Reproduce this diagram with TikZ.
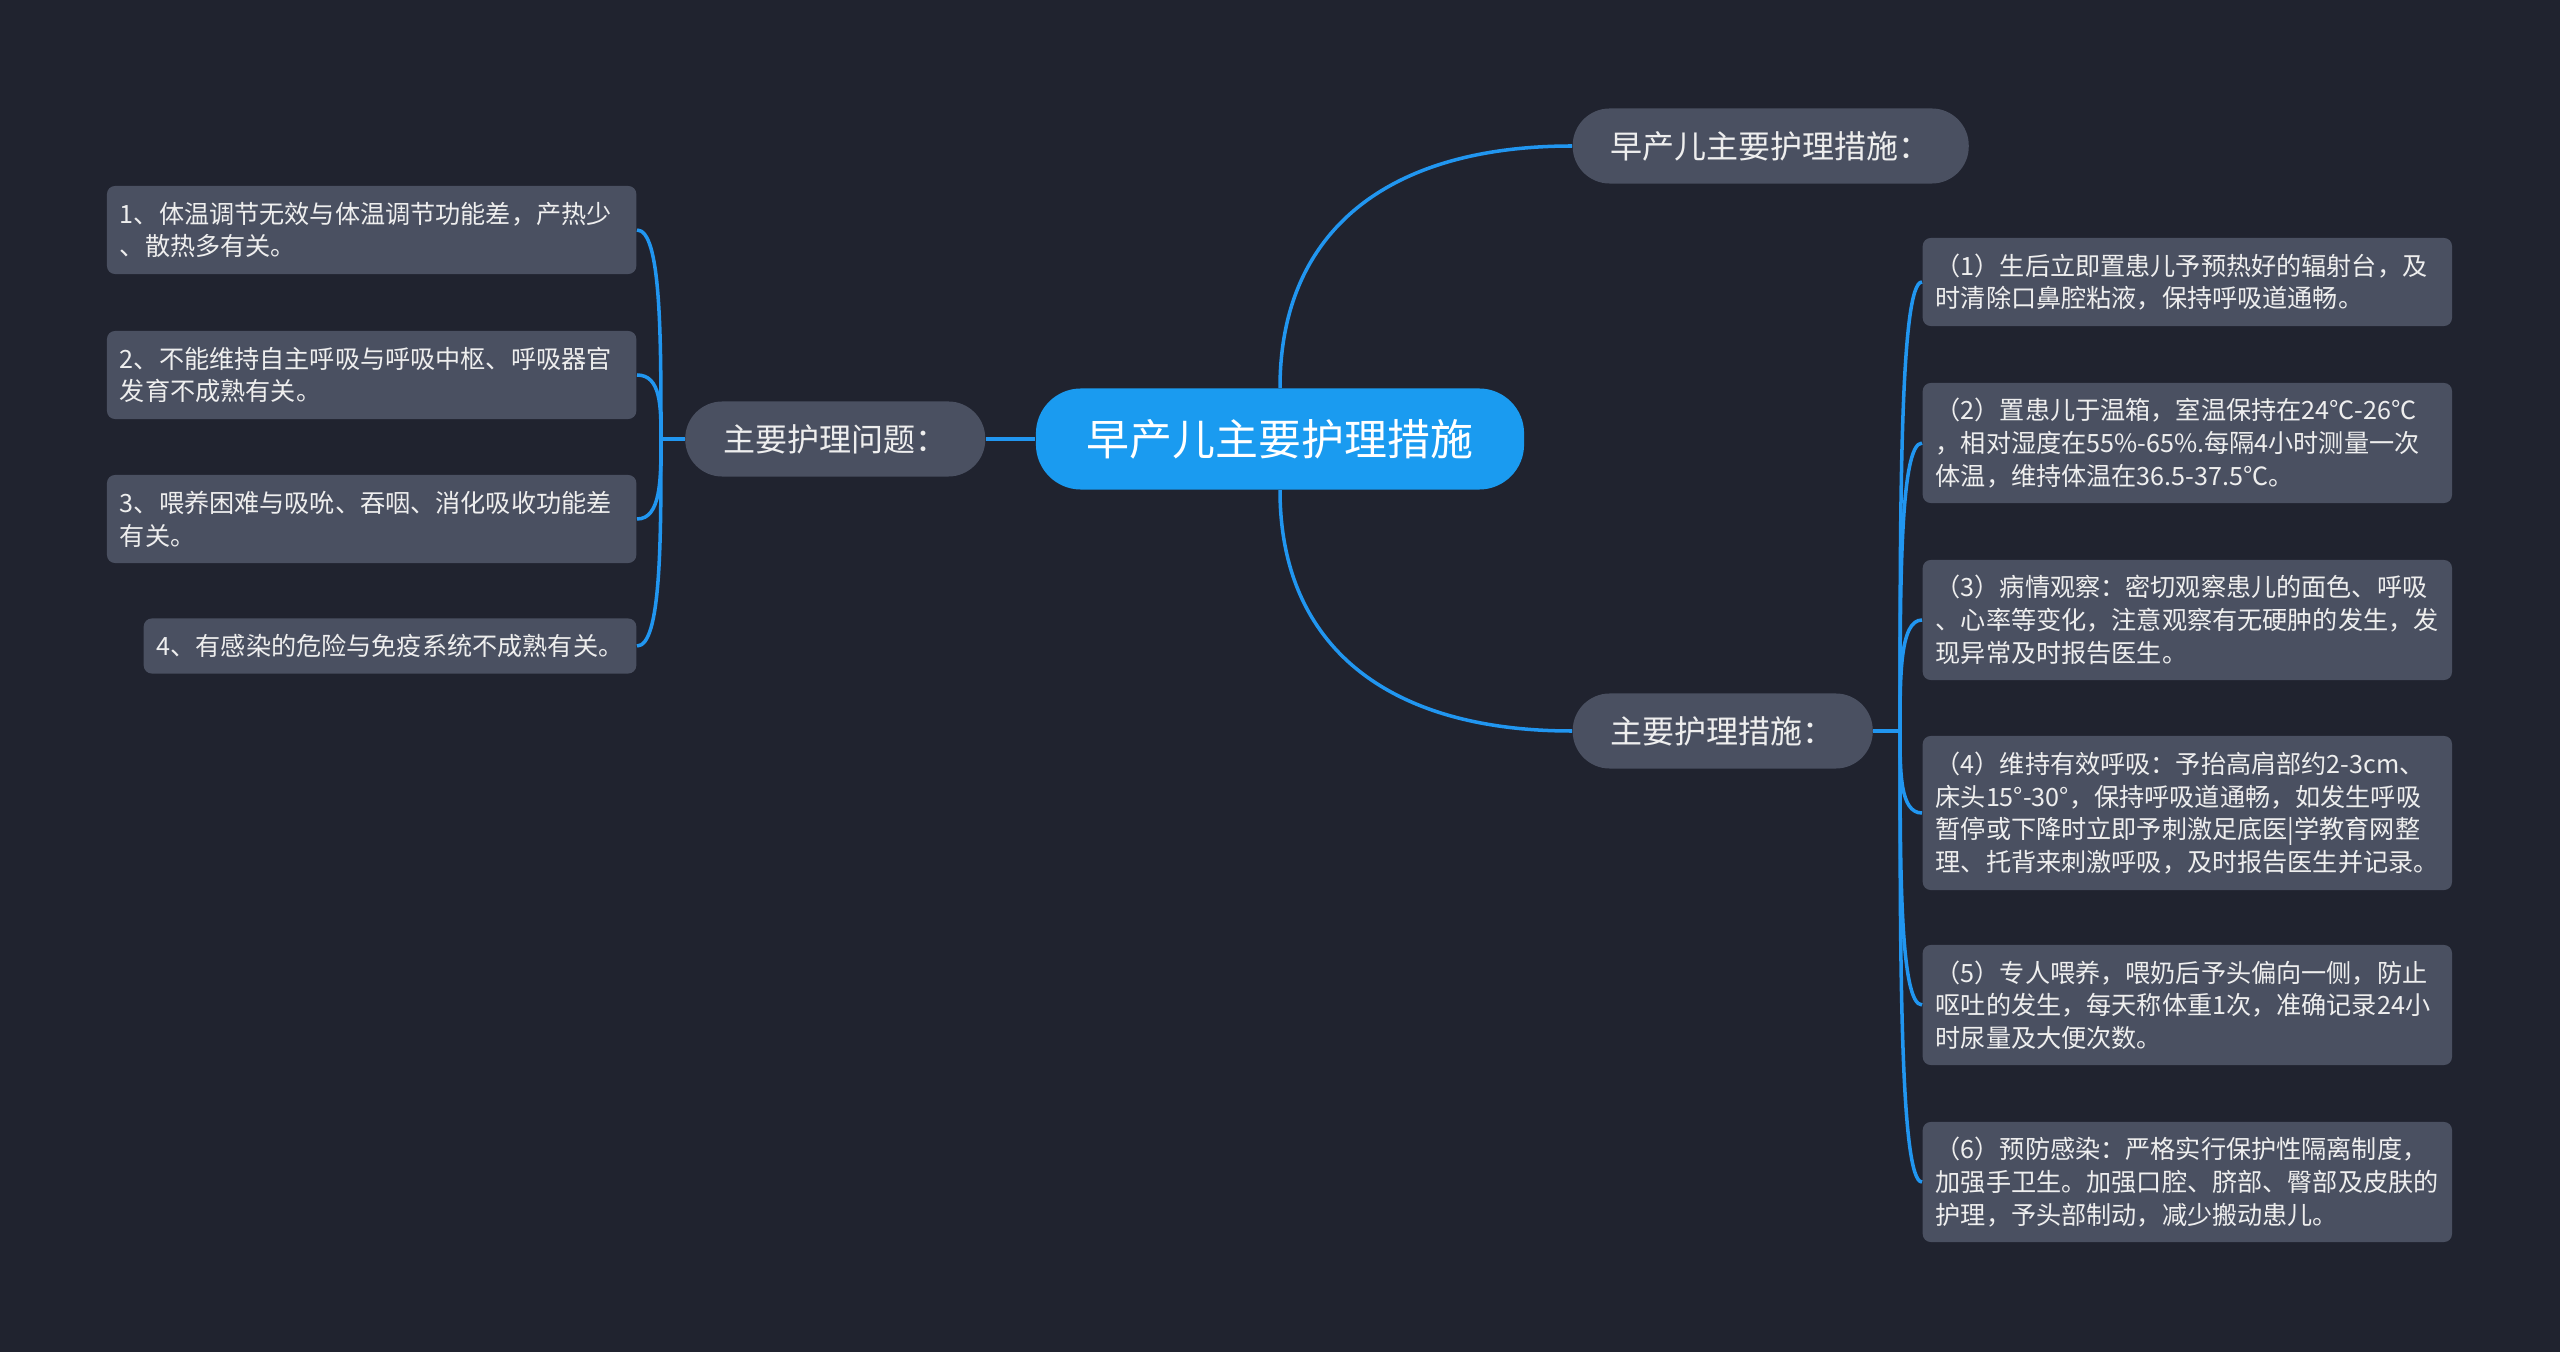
\documentclass[tikz,border=0pt]{standalone}
\usepackage{fontspec}
\setmainfont{Noto Sans CJK SC}
\usepackage{tikz}
\usetikzlibrary{calc}
\definecolor{bg}{HTML}{20232F}
\definecolor{boxgray}{HTML}{4A5061}
\definecolor{rootblue}{HTML}{1A9BF0}
\definecolor{linkblue}{HTML}{2196F0}
\definecolor{txt}{HTML}{EEEEEE}

\begin{document}
\begin{tikzpicture}
      [x=0.01cm,y=-0.01cm,
      every node/.style={text=txt,inner ysep=0pt},
      rootnode/.style={fill=rootblue,rounded corners=0.45cm,minimum height=1.01cm,
        inner xsep=0.51cm,text=white,font=\fontsize{12.2pt}{14pt}\selectfont},
      topic/.style={fill=boxgray,rounded corners=0.37cm,minimum height=0.75cm,
        inner xsep=0.38cm,font=\fontsize{9.1pt}{11pt}\selectfont},
      leaf/.style={fill=boxgray,rounded corners=0.08cm,minimum height=#1,
        inner xsep=0.13cm,align=left,font=\fontsize{7.15pt}{9.3pt}\selectfont},
      wide/.style={text width=5.03cm},
      link/.style={draw=linkblue,line width=1pt}]
      \fill[bg] (0,0) rectangle (2560,1352);
      \useasboundingbox (0,0) rectangle (2560,1352);

      \node[rootnode] (root) at (1280,439) {早产儿主要护理措施};
      \node[topic,anchor=west] (sum) at (1572,146) {早产儿主要护理措施：};
      \node[topic,anchor=west] (meas) at (1572,731) {主要护理措施：};
      \node[topic,anchor=east] (prob) at (986,439) {主要护理问题：};

      \node[leaf=0.88cm,wide,anchor=east] (l1) at (637,230)
        {1、体温调节无效与体温调节功能差，产热少\\、散热多有关。};
      \node[leaf=0.88cm,wide,anchor=east] (l2) at (637,375)
        {2、不能维持自主呼吸与呼吸中枢、呼吸器官\\发育不成熟有关。};
      \node[leaf=0.88cm,wide,anchor=east] (l3) at (637,519)
        {3、喂养困难与吸吮、吞咽、消化吸收功能差\\有关。};
      \node[leaf=0.55cm,anchor=east] (l4) at (637,646)
        {4、有感染的危险与免疫系统不成熟有关。};

      \node[leaf=0.88cm,wide,anchor=west] (r1) at (1922,282)
        {（1）生后立即置患儿予预热好的辐射台，及\\时清除口鼻腔粘液，保持呼吸道通畅。};
      \node[leaf=1.2cm,wide,anchor=west] (r2) at (1922,443)
        {（2）置患儿于温箱，室温保持在24℃-26℃\\，相对湿度在55\%-65\%.每隔4小时测量一次\\体温，维持体温在36.5-37.5℃。};
      \node[leaf=1.2cm,wide,anchor=west] (r3) at (1922,620)
        {（3）病情观察：密切观察患儿的面色、呼吸\\、心率等变化，注意观察有无硬肿的发生，发\\现异常及时报告医生。};
      \node[leaf=1.54cm,wide,anchor=west] (r4) at (1922,813)
        {（4）维持有效呼吸：予抬高肩部约2-3cm、\\床头15°-30°，保持呼吸道通畅，如发生呼吸\\暂停或下降时立即予刺激足底医|学教育网整\\理、托背来刺激呼吸，及时报告医生并记录。};
      \node[leaf=1.2cm,wide,anchor=west] (r5) at (1922,1005)
        {（5）专人喂养，喂奶后予头偏向一侧，防止\\呕吐的发生，每天称体重1次，准确记录24小\\时尿量及大便次数。};
      \node[leaf=1.2cm,wide,anchor=west] (r6) at (1922,1182)
        {（6）预防感染：严格实行保护性隔离制度，\\加强手卫生。加强口腔、脐部、臀部及皮肤的\\护理，予头部制动，减少搬动患儿。};

      \coordinate (pj) at (661,439);
      \coordinate (mj) at (1900,731);

      \draw[link] (root.north) .. controls ($(root.north)!0.65!(root.north |- sum.west)$)
        and ($(sum.west)!0.63!(root.north |- sum.west)$) .. (sum.west);
      \draw[link] (root.south) .. controls ($(root.south)!0.65!(root.south |- meas.west)$)
        and ($(meas.west)!0.63!(root.south |- meas.west)$) .. (meas.west);
      \draw[link] (root.west) -- (prob.east);
      \draw[link] (prob.west) -- (pj);
      \draw[link] (meas.east) -- (mj);
      \foreach \n in {l1,l2,l3,l4}
        \draw[link] (pj) .. controls ($(pj)!0.5!(pj |- \n.east)$) and (pj |- \n.east) .. (\n.east);
      \foreach \n in {r1,r2,r3,r4,r5,r6}
        \draw[link] (mj) .. controls ($(mj)!0.5!(mj |- \n.west)$) and (mj |- \n.west) .. (\n.west);
\end{tikzpicture}
\end{document}
